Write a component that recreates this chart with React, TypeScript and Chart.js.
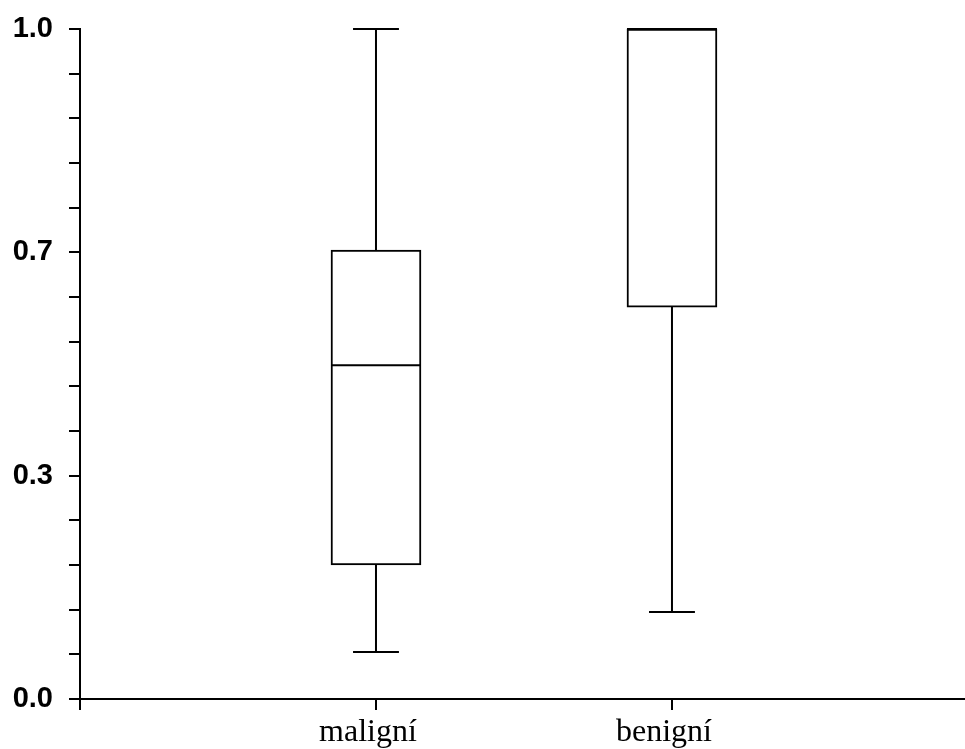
import React, { useEffect, useRef } from 'react';
import { Chart, registerables } from 'chart.js';

Chart.register(...registerables);

// Box-plot summary per group
const categories = ['maligní', 'benigní'];
const positions = [1, 2];
const whiskerLow = [0.07, 0.13];
const quartile1 = [0.2, 0.585];
const medians = [0.498, 1.0];
const quartile3 = [0.67, 1.0];
const whiskerHigh = [1.0, 1.0];

// Y axis: labelled major ticks with unlabelled minor ticks between them
const yMajorTickValues = [0, 1 / 3, 2 / 3, 1];
const yMajorTickLabels = ['0.0', '0.3', '0.7', '1.0'];
const yMinorPerMajor = 5;

const boxWhiskerPlugin = {
  id: 'boxWhisker',
  afterDatasetsDraw(chart: any) {
    const { ctx } = chart;
    const xs = chart.scales.x;
    const ys = chart.scales.y;
    const meta = chart.getDatasetMeta(0);
    ctx.save();
    ctx.strokeStyle = '#000';
    ctx.lineWidth = 2;
    ctx.lineCap = 'butt';
    positions.forEach((pos, i) => {
      const bar = meta.data[i];
      const cx = xs.getPixelForValue(pos);
      const half = bar.width / 2;
      const capHalf = half * 0.51;
      const pLow = ys.getPixelForValue(whiskerLow[i]);
      const pQ1 = ys.getPixelForValue(quartile1[i]);
      const pMed = ys.getPixelForValue(medians[i]);
      const pQ3 = ys.getPixelForValue(quartile3[i]);
      const pHigh = ys.getPixelForValue(whiskerHigh[i]);
      ctx.beginPath();
      if (pHigh < pQ3) {
        ctx.moveTo(cx, pQ3);
        ctx.lineTo(cx, pHigh);
        ctx.moveTo(cx - capHalf, pHigh);
        ctx.lineTo(cx + capHalf, pHigh);
      }
      if (pLow > pQ1) {
        ctx.moveTo(cx, pQ1);
        ctx.lineTo(cx, pLow);
        ctx.moveTo(cx - capHalf, pLow);
        ctx.lineTo(cx + capHalf, pLow);
      }
      ctx.moveTo(cx - half, pMed);
      ctx.lineTo(cx + half, pMed);
      ctx.stroke();
    });
    ctx.restore();
  },
};

export default function App() {
  const ref = useRef<HTMLCanvasElement>(null);

  useEffect(() => {
    const canvas = ref.current;
    if (!canvas) return;

    const yTicks: number[] = [];
    for (let m = 0; m < yMajorTickValues.length - 1; m++) {
      const a = yMajorTickValues[m];
      const b = yMajorTickValues[m + 1];
      for (let k = 0; k < yMinorPerMajor; k++) yTicks.push(a + ((b - a) * k) / yMinorPerMajor);
    }
    yTicks.push(yMajorTickValues[yMajorTickValues.length - 1]);

    const chart = new Chart(canvas, {
      type: 'bar',
      data: {
        datasets: [
          {
            data: positions.map((p, i) => ({ x: p, y: [quartile1[i], quartile3[i]] })) as any,
            backgroundColor: '#ffffff',
            borderColor: '#000000',
            borderWidth: 2,
            borderSkipped: false,
            barThickness: 90,
          },
        ],
      },
      options: {
        responsive: false,
        animation: false,
        events: [],
        layout: { padding: { top: 29, right: 0, bottom: 0, left: 0 } },
        plugins: {
          legend: { display: false },
          tooltip: { enabled: false },
        },
        scales: {
          x: {
            type: 'linear',
            min: 0,
            max: 2.99,
            offset: false,
            grid: {
              offset: false,
              drawOnChartArea: false,
              drawTicks: true,
              tickLength: 11,
              color: '#000',
              lineWidth: 2,
            },
            border: { display: true, color: '#000', width: 2 },
            afterBuildTicks: (scale: any) => {
              scale.ticks = [0, ...positions].map((v) => ({ value: v }));
            },
            afterFit: (scale: any) => {
              scale.height = 50;
              scale.paddingLeft = 0;
              scale.paddingRight = 0;
            },
            ticks: {
              autoSkip: false,
              maxRotation: 0,
              padding: 3,
              labelOffset: -8,
              color: '#000',
              font: { family: '"Liberation Serif", "Times New Roman", serif', size: 32 },
              callback: (value: any) => {
                const idx = positions.indexOf(Number(value));
                return idx >= 0 ? categories[idx] : '';
              },
            },
          },
          y: {
            type: 'linear',
            min: 0,
            max: 1,
            grid: {
              drawOnChartArea: false,
              drawTicks: true,
              tickLength: 11,
              color: '#000',
              lineWidth: 2,
            },
            border: { display: true, color: '#000', width: 2 },
            afterBuildTicks: (scale: any) => {
              scale.ticks = yTicks.map((v) => ({ value: v }));
            },
            afterFit: (scale: any) => {
              scale.width = 80;
              scale.paddingTop = 0;
              scale.paddingBottom = 0;
            },
            ticks: {
              autoSkip: false,
              padding: 16,
              color: '#000',
              font: { family: '"Liberation Sans", Arial, sans-serif', size: 29, weight: 'bold' },
              callback: (_value: any, index: number) =>
                index % yMinorPerMajor === 0 ? yMajorTickLabels[index / yMinorPerMajor] : '',
            },
          },
        },
      },
      plugins: [boxWhiskerPlugin],
    });

    return () => chart.destroy();
  }, []);

  return (
    <div style={{ position: 'absolute', left: 0, top: 0, width: 965, height: 749, background: '#fff' }}>
      <canvas ref={ref} width={965} height={749} style={{ display: 'block' }} />
    </div>
  );
}
